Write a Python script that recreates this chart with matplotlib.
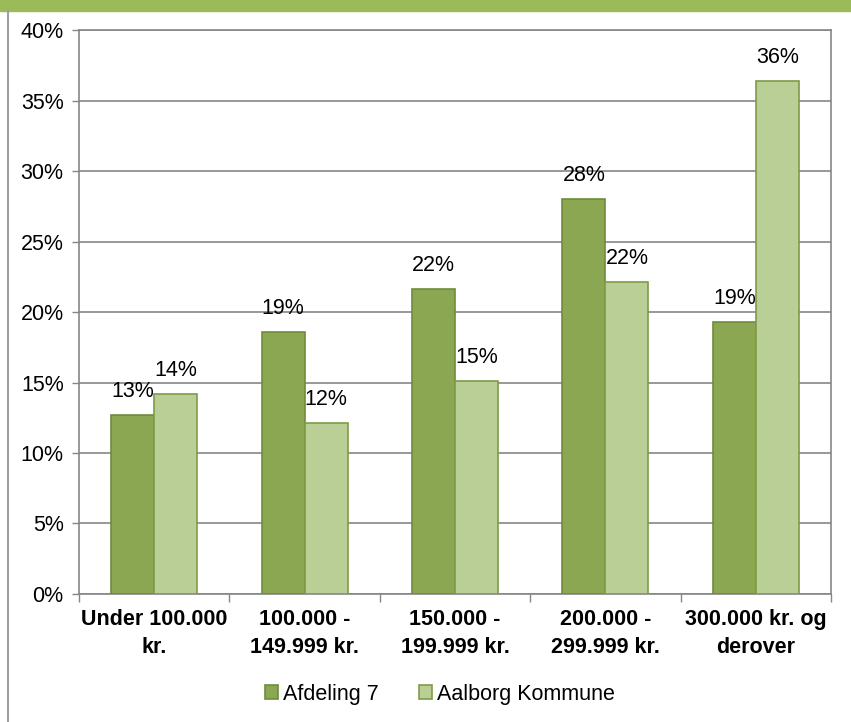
import numpy as np
import matplotlib.pyplot as plt
from matplotlib.lines import Line2D
from matplotlib.patches import Rectangle

plt.rcParams['font.family'] = ['Liberation Sans', 'DejaVu Sans']

categories = ['Under 100.000\nkr.', '100.000 -\n149.999 kr.', '150.000 -\n199.999 kr.',
              '200.000 -\n299.999 kr.', '300.000 kr. og\nderover']
afdeling_7 = [12.7, 18.6, 21.6, 28.0, 19.3]
aalborg_kommune = [14.2, 12.1, 15.1, 22.1, 36.4]
series_names = ['Afdeling 7', 'Aalborg Kommune']
yticks = [0, 5, 10, 15, 20, 25, 30, 35, 40]

dark_fill, dark_edge = '#8ba752', '#6f8c3c'
light_fill, light_edge = '#b9cf96', '#7e9b47'
grid_col = '#868686'
fs = 15.5

fig = plt.figure(figsize=(8.51, 7.22), dpi=100)
ax = fig.add_axes([0.0928, 0.1773, 0.8837, 0.7811])

x = np.arange(len(categories))
w = 0.286
b1 = ax.bar(x - w / 2, afdeling_7, w, color=dark_fill, edgecolor=dark_edge, linewidth=1.2,
            label=series_names[0], zorder=3)
b2 = ax.bar(x + w / 2, aalborg_kommune, w, color=light_fill, edgecolor=light_edge, linewidth=1.2,
            label=series_names[1], zorder=3)

for bars, vals in ((b1, afdeling_7), (b2, aalborg_kommune)):
    for r, v in zip(bars, vals):
        ax.annotate(f'{round(v):d}%', (r.get_x() + r.get_width() / 2, v),
                    xytext=(0, 9.5), textcoords='offset points',
                    ha='center', va='bottom', fontsize=fs)

ax.set_ylim(0, 40)
ax.set_xlim(-0.5, len(categories) - 0.5)
ax.set_yticks(yticks)
ax.set_yticklabels([f'{t}%' for t in yticks], fontsize=fs)
ax.yaxis.grid(True, color=grid_col, linewidth=1.2, zorder=0)
ax.set_axisbelow(True)

ax.set_xticks(x)
ax.set_xticklabels(categories, fontsize=fs, fontweight='bold', linespacing=1.4)
ax.tick_params(axis='x', length=0, pad=11)
ax.set_xticks(np.arange(-0.5, len(categories)), minor=True)
ax.tick_params(axis='x', which='minor', length=6, color=grid_col, width=1)
ax.tick_params(axis='y', length=5, color=grid_col, width=1, pad=6)

for s in ax.spines.values():
    s.set_color(grid_col)
    s.set_linewidth(1.2)

ax.legend(loc='center', bbox_to_anchor=(0.48, -0.178), ncol=2, frameon=False,
          fontsize=fs, handlelength=0.6, handleheight=0.6, handletextpad=0.2,
          columnspacing=1.9)

# green band along the top and grey frame on the left
fig.add_artist(Rectangle((0, 1 - 11 / 722), 1, 11 / 722, transform=fig.transFigure,
                         color='#9bbb59', zorder=0))
fig.add_artist(Line2D([7.5 / 851, 7.5 / 851], [0, 1 - 11 / 722], transform=fig.transFigure,
                      color='#a0a0a0', linewidth=1.5))

fig.savefig('out.png', dpi=100)
